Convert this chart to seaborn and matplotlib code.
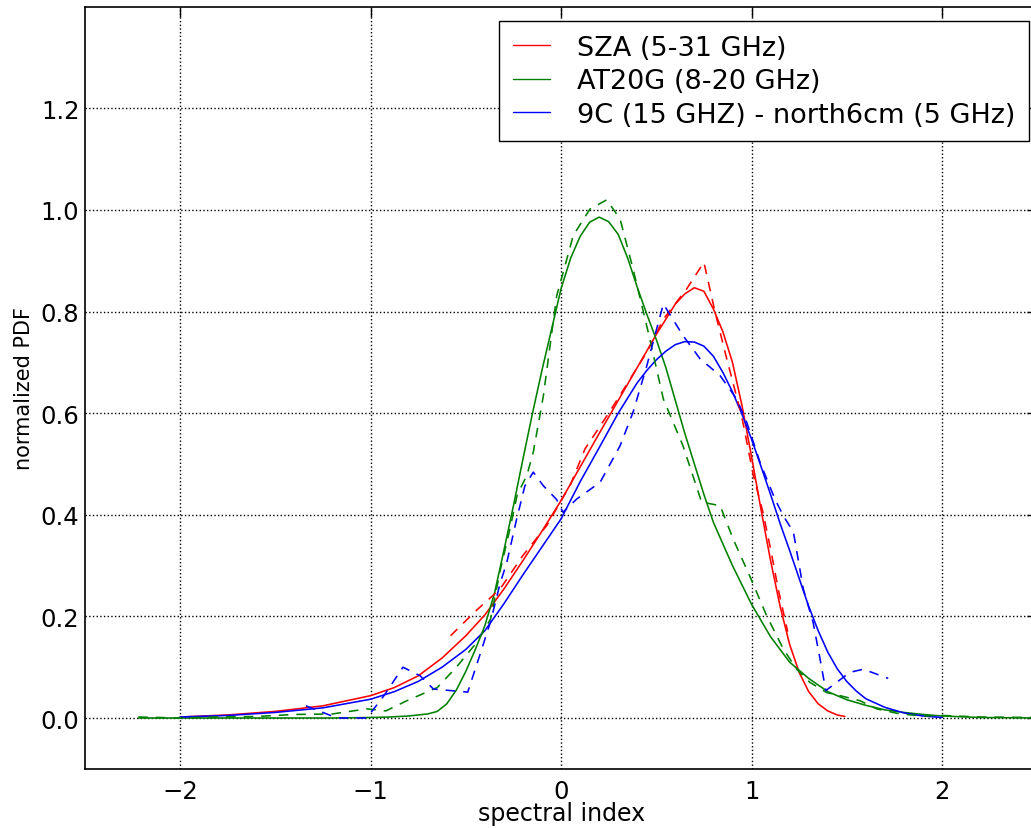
import numpy as np
import pandas as pd
import matplotlib
matplotlib.use('Agg')
import matplotlib.pyplot as plt
import seaborn as sns

# ==================== data ====================
# solid curves (fitted PDFs)
sza_fit_x = [-2.0, -1.75, -1.5, -1.25, -1.0, -0.875, -0.75, -0.625, -0.5, -0.4, -0.3, -0.2, -0.1,
             0.0, 0.1, 0.2, 0.3, 0.4, 0.5, 0.55, 0.6, 0.65, 0.7, 0.75, 0.8, 0.85, 0.9, 0.95,
             1.0, 1.05, 1.1, 1.15, 1.2, 1.25, 1.3, 1.35, 1.4, 1.45, 1.49]
sza_fit_y = [0.002, 0.006, 0.013, 0.024, 0.044, 0.06, 0.083, 0.118, 0.162, 0.203, 0.254, 0.31, 0.368,
             0.428, 0.494, 0.56, 0.625, 0.69, 0.755, 0.785, 0.815, 0.835, 0.847, 0.84, 0.805, 0.76, 0.70, 0.615,
             0.515, 0.41, 0.31, 0.22, 0.145, 0.09, 0.052, 0.028, 0.014, 0.006, 0.003]

at20g_fit_x = [-2.22, -1.2, -1.0, -0.9, -0.8, -0.7, -0.65, -0.6, -0.55, -0.5, -0.45, -0.4, -0.35,
               -0.3, -0.25, -0.2, -0.15, -0.1, -0.05, 0.0, 0.05, 0.1, 0.15, 0.2, 0.25, 0.3, 0.35,
               0.4, 0.45, 0.5, 0.55, 0.6, 0.65, 0.7, 0.75, 0.8, 0.9, 1.0, 1.1, 1.2, 1.3, 1.4,
               1.5, 1.6, 1.7, 1.8, 1.9, 2.0, 2.2, 2.5]
at20g_fit_y = [0.0, 0.0, 0.001, 0.002, 0.004, 0.008, 0.013, 0.028, 0.055, 0.092, 0.135, 0.182, 0.245,
               0.33, 0.418, 0.51, 0.60, 0.685, 0.765, 0.845, 0.905, 0.948, 0.976, 0.986, 0.977, 0.952, 0.905,
               0.848, 0.795, 0.745, 0.69, 0.625, 0.56, 0.50, 0.44, 0.385, 0.30, 0.224, 0.16, 0.11, 0.078, 0.052,
               0.036, 0.025, 0.016, 0.011, 0.007, 0.004, 0.001, 0.0]

ninec_fit_x = [-2.0, -1.75, -1.5, -1.25, -1.0, -0.875, -0.75, -0.625, -0.5, -0.4, -0.3, -0.2, -0.1,
               0.0, 0.1, 0.2, 0.3, 0.4, 0.45, 0.5, 0.55, 0.6, 0.65, 0.7, 0.75, 0.8, 0.85, 0.9,
               0.95, 1.0, 1.05, 1.1, 1.15, 1.2, 1.25, 1.3, 1.35, 1.4, 1.45, 1.5, 1.55, 1.6,
               1.7, 1.8, 1.9, 2.0]
ninec_fit_y = [0.002, 0.005, 0.011, 0.02, 0.037, 0.052, 0.072, 0.10, 0.135, 0.172, 0.225, 0.282, 0.337,
               0.392, 0.465, 0.532, 0.60, 0.66, 0.684, 0.705, 0.722, 0.735, 0.741, 0.74, 0.732, 0.712, 0.68, 0.642,
               0.598, 0.549, 0.495, 0.44, 0.383, 0.33, 0.275, 0.22, 0.172, 0.13, 0.097, 0.072, 0.053, 0.038,
               0.021, 0.01, 0.004, 0.001]

# dashed curves (binned distributions)
sza_hist_x = [-0.58, -0.45, -0.32, -0.2, -0.075, 0.05, 0.126, 0.25, 0.362, 0.45, 0.537, 0.66,
              0.75, 0.808, 0.87, 0.948, 1.01, 1.06, 1.1, 1.14, 1.19]
sza_hist_y = [0.162, 0.21, 0.254, 0.32, 0.379, 0.46, 0.53, 0.60, 0.667, 0.72, 0.785, 0.845,
              0.897, 0.80, 0.707, 0.595, 0.477, 0.405, 0.333, 0.254, 0.17]

at20g_hist_x = [-2.22, -2.0, -1.8, -1.6, -1.4, -1.2, -1.02, -0.92, -0.81, -0.65, -0.55, -0.44,
                -0.37, -0.32, -0.27, -0.23, -0.18, -0.146, -0.093, -0.023, 0.03, 0.064, 0.152,
                0.24, 0.31, 0.378, 0.458, 0.537, 0.64, 0.738, 0.835, 0.904, 0.99, 1.08, 1.167,
                1.237, 1.307, 1.395, 1.465, 1.57, 1.657, 1.78, 1.9, 2.0, 2.2, 2.5]
at20g_hist_y = [0.002, 0.0, 0.002, 0.003, 0.007, 0.008, 0.018, 0.014, 0.034, 0.06, 0.10, 0.15,
                0.195, 0.29, 0.37, 0.44, 0.477, 0.523, 0.634, 0.831, 0.903, 0.95, 1.002,
                1.02, 0.982, 0.884, 0.759, 0.628, 0.536, 0.425, 0.418, 0.352, 0.28, 0.201, 0.136,
                0.096, 0.07, 0.05, 0.044, 0.034, 0.018, 0.008, 0.004, 0.005, 0.002, 0.001]

ninec_hist_x = [-1.34, -1.21, -1.16, -1.02, -0.93, -0.83, -0.74, -0.67, -0.49, -0.43, -0.37,
                -0.32, -0.285, -0.233, -0.19, -0.146, -0.093, -0.023, 0.01, 0.082, 0.205, 0.31,
                0.378, 0.45, 0.502, 0.537, 0.64, 0.73, 0.835, 0.922, 0.975, 1.045, 1.123, 1.167,
                1.22, 1.272, 1.323, 1.36, 1.39, 1.517, 1.587, 1.718]
ninec_hist_y = [0.024, 0.005, 0.0, 0.0, 0.044, 0.10, 0.083, 0.057, 0.051, 0.12, 0.19,
                0.265, 0.306, 0.392, 0.457, 0.484, 0.457, 0.43, 0.405, 0.431, 0.464, 0.536,
                0.602, 0.693, 0.766, 0.815, 0.753, 0.707, 0.674, 0.628, 0.582, 0.503, 0.431, 0.398,
                0.366, 0.254, 0.189, 0.116, 0.054, 0.09, 0.096, 0.078]

labels = ['SZA (5-31 GHz)', 'AT20G (8-20 GHz)', '9C (15 GHZ) - north6cm (5 GHz)']
colors = ['#ff0000', '#008000', '#0000ff']

# ==================== style ====================
sns.set_theme(style='white')
plt.rcParams['font.family'] = ['DejaVu Sans']
plt.rcParams['text.color'] = 'black'
plt.rcParams['axes.labelcolor'] = 'black'
plt.rcParams['xtick.color'] = 'black'
plt.rcParams['ytick.color'] = 'black'
plt.rcParams['xtick.direction'] = 'in'
plt.rcParams['ytick.direction'] = 'in'

fig = plt.figure(figsize=(10.31, 8.29), dpi=100)
ax = fig.add_axes([0.0824, 0.0714, 0.9236, 0.9192])

fits = [(sza_fit_x, sza_fit_y), (at20g_fit_x, at20g_fit_y), (ninec_fit_x, ninec_fit_y)]
hists = [(sza_hist_x, sza_hist_y), (at20g_hist_x, at20g_hist_y), (ninec_hist_x, ninec_hist_y)]

for (fx, fy), lab, c in zip(fits, labels, colors):
    sns.lineplot(x=fx, y=fy, ax=ax, color=c, lw=1.15, sort=False, estimator=None, label=lab)

for (hx, hy), c in zip(hists, colors):
    sns.lineplot(x=hx, y=hy, ax=ax, color=c, lw=1.15, sort=False, estimator=None,
                 linestyle=(0, (6, 5)), legend=False)

ax.set_xlim(-2.5, 2.5)
ax.set_ylim(-0.1, 1.4)
ax.set_xticks([-2, -1, 0, 1, 2])
ax.set_yticks([0.0, 0.2, 0.4, 0.6, 0.8, 1.0, 1.2])
ax.yaxis.set_major_formatter(matplotlib.ticker.FormatStrFormatter('%.1f'))
ax.tick_params(axis='both', which='major', labelsize=17.5, length=7, width=1,
               color='black', labelcolor='black', top=True, right=True)
ax.tick_params(axis='x', pad=7)
ax.tick_params(axis='y', pad=4)
ax.grid(True, linestyle=':', color='black', lw=1)
for sp in ax.spines.values():
    sp.set_color('black')
    sp.set_linewidth(1.2)

ax.set_xlabel('spectral index', fontsize=17, labelpad=-1)
ax.set_ylabel('normalized PDF', fontsize=15, labelpad=5)

leg = ax.legend(loc='upper right', bbox_to_anchor=(0.9914, 0.9814), fontsize=19.5,
                fancybox=False, framealpha=1, edgecolor='black', handlelength=1.37,
                handletextpad=1.0, borderpad=0.5, labelspacing=0.28, borderaxespad=0)
leg.get_frame().set_linewidth(1.0)
for h in leg.get_lines():
    h.set_linewidth(1.0)

fig.savefig('out.png', dpi=100)
